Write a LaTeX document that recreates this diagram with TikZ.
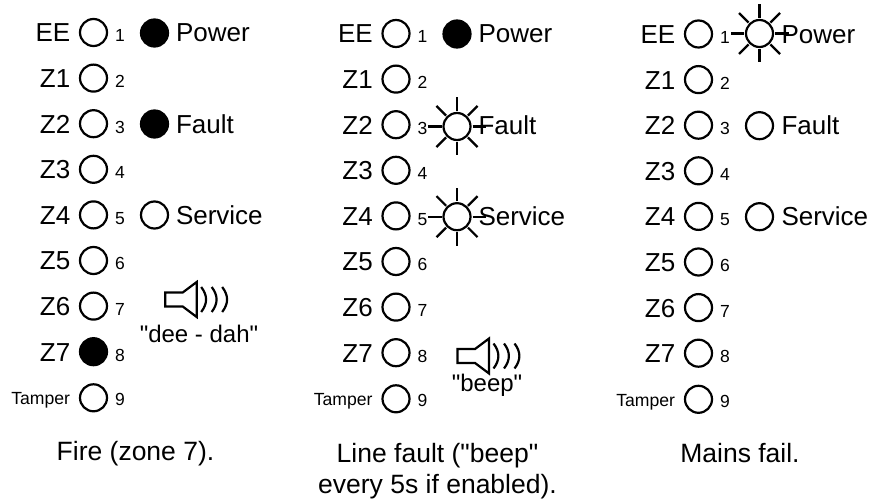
\documentclass[tikz,border=0pt]{standalone}
\usepackage{fontspec}
\setmainfont[Ligatures=TeXOff]{Liberation Sans}
\tikzset{
  every node/.style={inner sep=0pt,outer sep=0pt},
  led/.style={circle,draw=black,line width=2.2bp,minimum size=27bp,fill=white},
  ledon/.style={led,fill=black},
  sunray/.style={line width=2.2bp},
  biglabel/.style={font=\fontsize{26bp}{30bp}\selectfont,anchor=base west},
  zonelabel/.style={font=\fontsize{26bp}{30bp}\selectfont,anchor=base east},
  tamperlabel/.style={font=\fontsize{17.6bp}{22bp}\selectfont,anchor=base east},
  numlabel/.style={font=\fontsize{17.5bp}{20bp}\selectfont,anchor=base west},
  caption/.style={font=\fontsize{26.5bp}{31bp}\selectfont,align=center,anchor=base},
  sound/.style={font=\fontsize{24bp}{28bp}\selectfont,anchor=base},
  speaker/.style={line width=2.2bp,line join=miter},
}
\newcommand{\ledpanel}[1]{%
  \foreach \r/\zl [count=\i from 1] in {1/EE,2/Z1,3/Z2,4/Z3,5/Z4,6/Z5,7/Z6,8/Z7}{%
    \pgfmathsetmacro{\yy}{32.5+(\i-1)*45.6}
    \node[zonelabel] (z#1\i) at (70.3,\yy+9.5) {\zl};
    \ifnum\i=8\relax\ifnum#1=1\relax
      \node[ledon] (l#1\i) at (93.5,\yy) {};
    \else
      \node[led] (l#1\i) at (93.5,\yy) {};
    \fi\else
      \node[led] (l#1\i) at (93.5,\yy) {};
    \fi
    \node[numlabel] (n#1\i) at (115,\yy+9.5) {\r};
  }
  \node[tamperlabel] (z#19) at (70,404.5) {Tamper};
  \node[led] (l#19) at (93.5,397.8) {};
  \node[numlabel] (n#19) at (115,405.5) {9};
}
\newcommand{\sunled}[2]{%
  \foreach \a in {0,45,...,315}{\draw[sunray] (#2)++(\a:15.5)--++(\a:13.5);}
  \node[led,fill=none] (#1) at (#2) {};
}
\newcommand{\speakericon}[2]{% x,y of the cone mouth centre
  \draw[speaker] (#1-31.5,#2-7)--(#1-14,#2-7)--(#1,#2-17.5)--(#1,#2+17.5)--(#1-14,#2+7)--(#1-31.5,#2+7)--cycle;
  \foreach \d in {4.5,15,25.5}{
    \draw[speaker] (#1+\d,#2-12.5) .. controls (#1+\d+6.5,#2-4) and (#1+\d+6.5,#2+4) .. (#1+\d,#2+12.5);
  }
}
\begin{document}
\begin{tikzpicture}[x=1bp,y=-1bp]
\useasboundingbox (0,0) rectangle (872,501);
% panel 1
\begin{scope}
  \ledpanel{1}
  \node[ledon] (pa) at (154.5,33) {};
  \node[biglabel] (pat) at (176,42) {Power};
  \node[ledon] (fa) at (154.5,124) {};
  \node[biglabel] (fat) at (176,133.3) {Fault};
  \node[led] (sa) at (154.5,215) {};
  \node[biglabel] (sat) at (176,224.3) {Service};
  \speakericon{196.7}{299.5}
  \node[sound] (da) at (199,342.7) {"dee - dah"};
  \node[caption] (ca) at (135.5,460.7) {Fire (zone 7).};
\end{scope}
% panel 2
\begin{scope}[xshift=302.5bp,yshift=-1bp]
  \ledpanel{2}
  \node[ledon] (pb) at (154.5,33) {};
  \node[biglabel] (pbt) at (176,42) {Power};
  \sunled{fb}{154.5,125.5}
  \node[biglabel] (fbt) at (176,134) {Fault};
  \sunled{sb}{154.5,215.7}
  \node[biglabel] (sbt) at (176,225) {Service};
  \speakericon{186.5}{355}
  \node[sound] (db) at (184.5,390.7) {"beep"};
\end{scope}
\node[caption] (cb) at (437.5,493.3) {Line fault ("beep"\\every 5s if enabled).};
% panel 3
\begin{scope}[xshift=605bp,yshift=-1.5bp]
  \ledpanel{3}
  \sunled{pc}{154.5,32}
  \node[biglabel] (pct) at (176.5,42.5) {Power};
  \node[led] (fc) at (154.5,124.2) {};
  \node[biglabel] (fct) at (176.5,133.5) {Fault};
  \node[led] (sc) at (154.5,215.2) {};
  \node[biglabel] (sct) at (176.5,224.5) {Service};
\end{scope}
\node[caption] (cc) at (740,462.3) {Mains fail.};
\end{tikzpicture}
\end{document}
